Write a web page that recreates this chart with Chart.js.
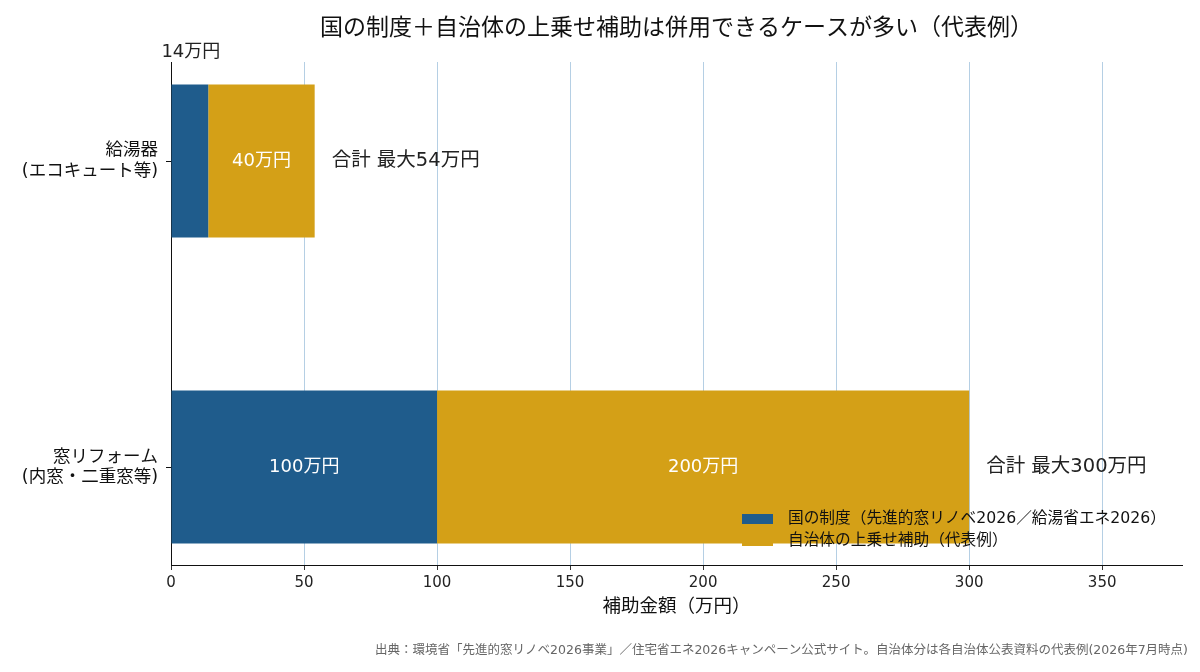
<!DOCTYPE html>
<html>
<head>
<meta charset="utf-8">
<script src="https://cdn.jsdelivr.net/npm/chart.js@4.4.1/dist/chart.umd.min.js"></script>
<style>
  html,body{margin:0;padding:0;background:#fff;}
  #wrap{width:1200px;height:672px;}
</style>
</head>
<body>
<div id="wrap"><canvas id="chart1" width="1200" height="672"></canvas></div>
<script>
// data
var categories = [["給湯器","(エコキュート等)"],["窓リフォーム","(内窓・二重窓等)"]];
var seriesNames = ["国の制度（先進的窓リノベ2026／給湯省エネ2026）","自治体の上乗せ補助（代表例）"];
var nationalValues = [14,100];
var localValues = [40,200];
var totalLabels = ["合計 最大54万円","合計 最大300万円"];
var xTicks = [0,50,100,150,200,250,300,350];
var chartTitle = "国の制度＋自治体の上乗せ補助は併用できるケースが多い（代表例）";
var sourceNote = "出典：環境省「先進的窓リノベ2026事業」／住宅省エネ2026キャンペーン公式サイト。自治体分は各自治体公表資料の代表例(2026年7月時点)";

var colors = ["#1f5c8c","#d4a017"];
var FONT = "'DejaVu Sans','Noto Sans CJK JP',sans-serif";
Chart.defaults.font.family = FONT;
Chart.defaults.color = "#222";

function toPoints(arr){
  let p = [];
  for (var i=0;i<arr.length;++i) p.push({x:arr[i], y:i});
  return p;
}

// title, footer, bar labels, totals and legend
var annotate = {
  id: "annotate",
  afterDatasetsDraw(chart){
    const ctx = chart.ctx, a = chart.chartArea;
    ctx.save();
    ctx.textBaseline = "middle";
    // title
    ctx.fillStyle = "#111";
    ctx.textAlign = "center";
    ctx.font = "23px " + FONT;
    ctx.fillText(chartTitle, (a.left+a.right)/2, 29);
    // source
    ctx.fillStyle = "#666";
    ctx.textAlign = "right";
    ctx.font = "12.5px " + FONT;
    ctx.fillText(sourceNote, 1188, 651);
    // values in bars
    const m0 = chart.getDatasetMeta(0).data, m1 = chart.getDatasetMeta(1).data;
    const vals = [nationalValues, localValues];
    [m0,m1].forEach(function(meta,d){
      meta.forEach(function(bar,i){
        const w = Math.abs(bar.x - bar.base);
        const cx = (bar.x + bar.base)/2;
        const txt = vals[d][i] + "万円";
        ctx.font = "18px " + FONT;
        ctx.textAlign = "center";
        if ( w > 60 ) { ctx.fillStyle = "#fff"; ctx.fillText(txt, cx, bar.y); }
        else { ctx.fillStyle = "#222"; ctx.fillText(txt, cx+1, bar.y - bar.height/2 - 32); }
      });
    });
    // totals
    ctx.fillStyle = "#222";
    ctx.textAlign = "left";
    ctx.font = "19.5px " + FONT;
    m1.forEach(function(bar,i){ ctx.fillText(totalLabels[i], bar.x + 17, bar.y); });
    // legend
    ctx.font = "15.7px " + FONT;
    for (var i=0;i<seriesNames.length;++i) {
      const y = 519 + i*22;
      ctx.fillStyle = colors[i];
      ctx.fillRect(742, y-5, 31, 10);
      ctx.fillStyle = "#111";
      ctx.fillText(seriesNames[i], 788, y);
    }
    ctx.restore();
  }
};

new Chart(document.getElementById("chart1"), {
  type: "bar",
  data: {
    datasets: [
      {label: seriesNames[0], data: toPoints(nationalValues), backgroundColor: colors[0], borderWidth: 0},
      {label: seriesNames[1], data: toPoints(localValues), backgroundColor: colors[1], borderWidth: 0}
    ]
  },
  options: {
    responsive: false,
    animation: false,
    indexAxis: "y",
    categoryPercentage: 1,
    barPercentage: 0.5,
    layout: { padding: {top: 62, right: 18, left: 0, bottom: 0} },
    plugins: { legend: {display:false}, tooltip: {enabled:false}, title: {display:false} },
    scales: {
      x: {
        type: "linear", stacked: true, min: 0, max: 380,
        afterFit: function(s){ s.height = 107; },
        afterBuildTicks: function(s){ s.ticks = xTicks.map(v => ({value:v})); },
        grid: { color: "#b5cfe4", lineWidth: 1, tickLength: 5, tickColor: "#333" },
        border: { color: "#111", width: 1 },
        ticks: { font: {size: 15}, color: "#222", padding: 4 },
        title: { display: true, text: "補助金額（万円）", font: {size: 18.5}, color: "#111", padding: {top: 0, bottom: 54} }
      },
      y: {
        type: "linear", stacked: true, reverse: true, min: -0.3235, max: 1.32, offset: false,
        afterFit: function(s){ s.width = 171; },
        afterBuildTicks: function(s){ s.ticks = categories.map((c,i) => ({value:i})); },
        grid: { drawOnChartArea: false, offset: false, tickLength: 5, tickColor: "#111" },
        border: { color: "#111", width: 1 },
        ticks: { font: {size: 17.5, lineHeight: 1.15}, color: "#111", padding: 8,
                 callback: function(v){ return categories[v] || ""; } }
      }
    }
  },
  plugins: [annotate]
});
</script>
</body>
</html>
